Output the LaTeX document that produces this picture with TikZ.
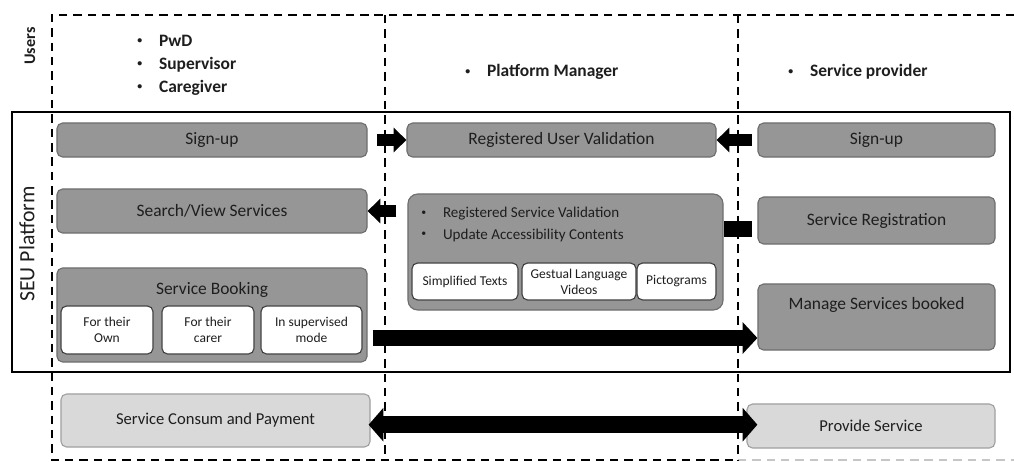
\documentclass[tikz,border=0pt]{standalone}
\usepackage{fontspec}
\setmainfont{Carlito}
\usepackage{xcolor}
\usepackage{tikz}
\usetikzlibrary{arrows.meta, positioning, calc}
\definecolor{boxgray}{RGB}{150,150,150}
\definecolor{boxedge}{RGB}{110,110,110}
\definecolor{palefill}{RGB}{217,217,217}
\definecolor{paleedge}{RGB}{160,160,160}
\definecolor{inkgray}{RGB}{30,30,30}
\newcommand{\itemdot}{\makebox[15.5pt][l]{\raisebox{1.8pt}{\fontsize{7}{7}\selectfont\textbullet}}}
\tikzset{
  block/.style={rectangle, rounded corners=4pt, draw=boxedge, fill=boxgray,
    line width=0.8pt, text=inkgray, align=center, inner sep=2pt,
    font=\fontsize{12.4}{15}\selectfont},
  subblock/.style={block, fill=white, draw=inkgray!85, minimum height=1.2cm,
    font=\fontsize{9.6}{11.5}\selectfont},
  paleblock/.style={block, fill=palefill, draw=paleedge,
    font=\fontsize{11.8}{14}\selectfont},
  rolelist/.style={anchor=west, align=left, inner sep=0pt, text=inkgray,
    font=\bfseries\fontsize{12.4}{16.4}\selectfont},
  lanedash/.style={dash pattern=on 6pt off 4.2pt, line width=1.8pt},
  platformbox/.style={rectangle, draw, line width=1.4pt},
  fatarrow/.style={-{Triangle[length=9pt, width=17pt]}, line width=9pt},
  bigarrow/.style={-{Triangle[length=10.5pt, width=22pt]}, line width=12pt},
  botharrow/.style={{Triangle[length=10.5pt, width=23.5pt]}-{Triangle[length=10.5pt, width=23.5pt]},
    line width=12pt},
  fatbar/.style={line width=11.4pt},
}

\begin{document}
\begin{tikzpicture}[x=0.025cm, y=-0.025cm]
  \useasboundingbox (0,0) rectangle (1014,461);

  % swim lanes
  \draw[lanedash] (1014,15) -| (52,460) -- (738,460);
  \draw[lanedash, gray!45] (738,460) -- (1014,460);
  \draw[lanedash] (385,15) -- (385,460);
  \draw[lanedash] (738,15) -- (738,460);

  \node[platformbox, minimum width=24.95cm, minimum height=6.5cm] (platform) at (511,242) {};

  \node[rotate=90, text=inkgray, font=\bfseries\fontsize{11.5}{13}\selectfont] (userslbl) at (30,46) {Users};
  \node[rotate=90, text=inkgray, font=\fontsize{15.5}{18}\selectfont] (seulbl) at (27,244) {SEU Platform};

  \node[rolelist] (pwdroles) at (137,65) {\itemdot PwD\\\itemdot Supervisor\\\itemdot Caregiver};
  \node[rolelist] (mgrrole) at (465,72) {\itemdot Platform Manager};
  \node[rolelist] (provrole) at (788,72) {\itemdot Service provider};

  % users column
  \node[block, minimum width=7.75cm, minimum height=0.85cm] (signL) at (212,140) {Sign-up};
  \node[block, minimum width=7.75cm, minimum height=1.1cm] (search) at (212,211) {Search/View Services};
  \node[block, minimum width=7.75cm, minimum height=2.35cm] (booking) at (212,315) {};
  \node[text=inkgray, font=\fontsize{12.4}{15}\selectfont] (bookingtitle) at (212,290) {Service Booking};
  \node[subblock, minimum width=2.3cm] (ownbook) at (107,330) {For their\\Own};
  \node[subblock, minimum width=2.3cm] (carerbook) at (208,330) {For their\\carer};
  \node[subblock, minimum width=2.525cm] (supbook) at (311.5,330) {In supervised\\mode};

  % platform manager column
  \node[block, minimum width=7.725cm, minimum height=0.85cm] (ruv) at (561.5,140) {Registered User Validation};
  \node[block, rounded corners=7pt, minimum width=7.875cm, minimum height=2.9cm] (mgr) at (565.5,252) {};
  \node[anchor=west, align=left, inner sep=0pt, text=inkgray, font=\fontsize{10.7}{15}\selectfont]
    (mgrtasks) at (421,224.5) {\itemdot Registered Service Validation\\\itemdot Update Accessibility Contents};
  \node[subblock, minimum width=2.65cm, minimum height=0.925cm] (simptext) at (465,281.5) {Simplified Texts};
  \node[subblock, minimum width=2.85cm, minimum height=0.925cm] (gestvid) at (579,281.5) {Gestual Language\\Videos};
  \node[subblock, minimum width=1.975cm, minimum height=0.925cm] (picto) at (676.5,281.5) {Pictograms};

  % provider column
  \node[block, minimum width=5.925cm, minimum height=0.85cm] (signR) at (876.5,140) {Sign-up};
  \node[block, minimum width=5.925cm, minimum height=1.175cm] (svcreg) at (876.5,220.5) {Service Registration};
  \node[block, minimum width=5.925cm, minimum height=1.65cm] (manage) at (876.5,317) {};
  \node[text=inkgray, font=\fontsize{12.4}{15}\selectfont] (managetitle) at (876.5,305) {Manage Services booked};

  % outside the platform
  \node[paleblock, minimum width=7.725cm, minimum height=1.325cm] (consum) at (215.5,420.5) {Service Consum and Payment};
  \node[paleblock, minimum width=6.2cm, minimum height=1.1cm] (provide) at (871,426) {Provide Service};

  \coordinate (bookrow) at (0,338);
  \coordinate (bothrow) at (0,424.7);

  \draw[fatarrow, shorten <=7pt] (signL.east) -- (ruv.west);
  \draw[fatarrow, shorten <=4pt] (signR.west) -- (ruv.east);
  \draw[fatarrow, shorten <=7.8pt] (mgr.west |- search.east) -- (search.east);
  \draw[fatbar, shorten >=4pt] ($(mgr.east |- svcreg.west)+(0,8.5)$) -- ($(svcreg.west)+(0,8.5)$);
  \draw[bigarrow, shorten <=3.5pt] (booking.east |- bookrow) -- (manage.west |- bookrow);
  \draw[botharrow, shorten <=-1.4pt, shorten >=-7.8pt] (consum.east |- bothrow) -- (provide.west |- bothrow);
\end{tikzpicture}
\end{document}
